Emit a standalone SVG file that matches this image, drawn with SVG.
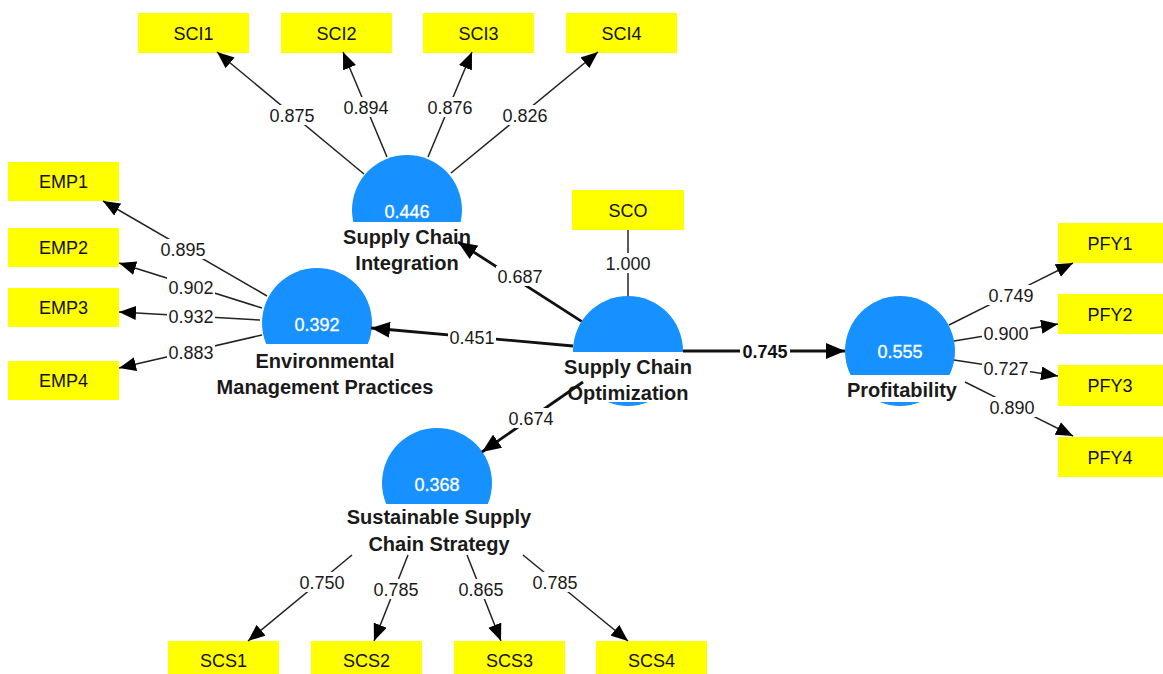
<svg xmlns="http://www.w3.org/2000/svg" width="1163" height="674" viewBox="0 0 1163 674">
<style>
.box{fill:#ffff00}
.bt{font-family:"Liberation Sans",Arial,sans-serif;font-size:18px;fill:#111;text-anchor:middle}
.lv{fill:#1691ff}
.val{font-family:"Liberation Sans",Arial,sans-serif;font-size:18px;fill:#fff;text-anchor:middle;stroke:#fff;stroke-width:0.3}
.lbl{font-family:"Liberation Sans",Arial,sans-serif;font-size:20px;font-weight:bold;fill:#1a1a1a;text-anchor:middle}
.lbg{fill:#fff}
.ind{stroke:#222;stroke-width:1.5;fill:none}
.str{stroke:#111;stroke-width:2.8;fill:none}
.num{font-family:"Liberation Sans",Arial,sans-serif;font-size:18px;fill:#1a1a1a;text-anchor:middle}
.numb{font-family:"Liberation Sans",Arial,sans-serif;font-size:18px;font-weight:bold;fill:#111;text-anchor:middle}
</style>
<defs>
<marker id="ah" markerUnits="userSpaceOnUse" markerWidth="17" markerHeight="14" refX="17" refY="7" orient="auto"><path d="M0,0 L17,7 L0,14 z" fill="#000"/></marker>
<marker id="ahL" markerUnits="userSpaceOnUse" markerWidth="19" markerHeight="16" refX="19" refY="8" orient="auto"><path d="M0,0 L19,8 L0,16 z" fill="#000"/></marker>
</defs>
<rect width="1163" height="674" fill="#fff"/>

<g id="SCI1"><rect class="box" x="138" y="13" width="111" height="40"/><text class="bt" x="193.5" y="39.5">SCI1</text></g>
<g id="SCI2"><rect class="box" x="281" y="13" width="111" height="40"/><text class="bt" x="336.5" y="39.5">SCI2</text></g>
<g id="SCI3"><rect class="box" x="423" y="13" width="111" height="40"/><text class="bt" x="478.5" y="39.5">SCI3</text></g>
<g id="SCI4"><rect class="box" x="566" y="13" width="111" height="40"/><text class="bt" x="621.5" y="39.5">SCI4</text></g>
<g id="SCO"><rect class="box" x="572" y="190" width="112" height="40"/><text class="bt" x="628" y="216.5">SCO</text></g>
<g id="EMP1"><rect class="box" x="8" y="162" width="111" height="39"/><text class="bt" x="63.5" y="188">EMP1</text></g>
<g id="EMP2"><rect class="box" x="8" y="228" width="111" height="39"/><text class="bt" x="63.5" y="254">EMP2</text></g>
<g id="EMP3"><rect class="box" x="8" y="288" width="111" height="39"/><text class="bt" x="63.5" y="314">EMP3</text></g>
<g id="EMP4"><rect class="box" x="8" y="361" width="111" height="39"/><text class="bt" x="63.5" y="387">EMP4</text></g>
<g id="PFY1"><rect class="box" x="1058" y="223" width="111" height="40"/><text class="bt" x="1110" y="249.5">PFY1</text></g>
<g id="PFY2"><rect class="box" x="1058" y="294" width="111" height="40"/><text class="bt" x="1110" y="320.5">PFY2</text></g>
<g id="PFY3"><rect class="box" x="1058" y="365" width="111" height="41"/><text class="bt" x="1110" y="392">PFY3</text></g>
<g id="PFY4"><rect class="box" x="1058" y="437" width="111" height="40"/><text class="bt" x="1110" y="463.5">PFY4</text></g>
<g id="SCS1"><rect class="box" x="168" y="641" width="111" height="40"/><text class="bt" x="223.5" y="667">SCS1</text></g>
<g id="SCS2"><rect class="box" x="311" y="641" width="111" height="40"/><text class="bt" x="366.5" y="667">SCS2</text></g>
<g id="SCS3"><rect class="box" x="454" y="641" width="111" height="40"/><text class="bt" x="509.5" y="667">SCS3</text></g>
<g id="SCS4"><rect class="box" x="596" y="641" width="111" height="40"/><text class="bt" x="651.5" y="667">SCS4</text></g>

<g id="SupplyChainIntegration">
<circle class="lv" cx="407" cy="210" r="55"/>
<rect class="lbg" x="336" y="222" width="142" height="52"/>
<text class="val" x="407" y="218">0.446</text>
<text class="lbl" x="407" y="244">Supply Chain</text>
<text class="lbl" x="407" y="270">Integration</text>
</g>
<g id="EnvironmentalManagementPractices">
<circle class="lv" cx="317" cy="323" r="55"/>
<rect class="lbg" x="205" y="344" width="240" height="56"/>
<text class="val" x="317" y="331">0.392</text>
<text class="lbl" x="325" y="368">Environmental</text>
<text class="lbl" x="325" y="394">Management Practices</text>
</g>
<g id="SupplyChainOptimization">
<circle class="lv" cx="628" cy="351" r="55"/>
<rect class="lbg" x="558" y="352" width="140" height="50"/>
<text class="lbl" x="628" y="374">Supply Chain</text>
<text class="lbl" x="628" y="400">Optimization</text>
</g>
<g id="Profitability">
<circle class="lv" cx="900" cy="351" r="55"/>
<rect class="lbg" x="836" y="375" width="128" height="27"/>
<text class="val" x="900" y="358">0.555</text>
<text class="lbl" x="902" y="397">Profitability</text>
</g>
<g id="SustainableSupplyChainStrategy">
<circle class="lv" cx="437" cy="483" r="55"/>
<rect class="lbg" x="335" y="504" width="206" height="52"/>
<text class="val" x="437" y="491">0.368</text>
<text class="lbl" x="439" y="524">Sustainable Supply</text>
<text class="lbl" x="439" y="551">Chain Strategy</text>
</g>

<g id="connectors">
<line class="ind" x1="364" y1="174" x2="217" y2="52" marker-end="url(#ah)"/>
<line class="ind" x1="387" y1="157" x2="343" y2="52" marker-end="url(#ah)"/>
<line class="ind" x1="428" y1="157" x2="472" y2="52" marker-end="url(#ah)"/>
<line class="ind" x1="451" y1="173" x2="598" y2="52" marker-end="url(#ah)"/>
<line class="ind" x1="267" y1="296" x2="103" y2="201" marker-end="url(#ah)"/>
<line class="ind" x1="262" y1="308" x2="119" y2="263" marker-end="url(#ah)"/>
<line class="ind" x1="260" y1="320" x2="119" y2="312" marker-end="url(#ah)"/>
<line class="ind" x1="262" y1="335" x2="119" y2="368" marker-end="url(#ah)"/>
<line class="ind" x1="949" y1="325" x2="1073" y2="263" marker-end="url(#ah)"/>
<line class="ind" x1="954" y1="341" x2="1058" y2="324" marker-end="url(#ah)"/>
<line class="ind" x1="954" y1="360" x2="1058" y2="376" marker-end="url(#ah)"/>
<line class="ind" x1="965" y1="382" x2="1073" y2="436" marker-end="url(#ah)"/>
<line class="ind" x1="352" y1="555" x2="248" y2="641" marker-end="url(#ah)"/>
<line class="ind" x1="408" y1="555" x2="374" y2="641" marker-end="url(#ah)"/>
<line class="ind" x1="467" y1="555" x2="501" y2="641" marker-end="url(#ah)"/>
<line class="ind" x1="523" y1="555" x2="628" y2="641" marker-end="url(#ah)"/>
<line class="ind" x1="628" y1="230" x2="628" y2="296"/>
<line class="str" x1="581.6" y1="321.4" x2="458" y2="242" marker-end="url(#ahL)"/>
<line class="str" x1="573" y1="346" x2="371" y2="328" marker-end="url(#ahL)"/>
<line class="str" x1="583" y1="382" x2="482" y2="452" stroke-width="2.4" marker-end="url(#ahL)"/>
<line class="str" x1="683" y1="351" x2="845" y2="351" marker-end="url(#ahL)"/>

<g class="lbg">
<rect x="268" y="105" width="48" height="20"/>
<rect x="342" y="97" width="48" height="20"/>
<rect x="426" y="97" width="48" height="20"/>
<rect x="501" y="105" width="48" height="20"/>
<rect x="159" y="239" width="48" height="20"/>
<rect x="167" y="277" width="48" height="20"/>
<rect x="167" y="306" width="48" height="20"/>
<rect x="167" y="342" width="48" height="20"/>
<rect x="987" y="285" width="48" height="20"/>
<rect x="982" y="323" width="48" height="20"/>
<rect x="982" y="358" width="48" height="20"/>
<rect x="988" y="397" width="48" height="20"/>
<rect x="298" y="572" width="48" height="20"/>
<rect x="372" y="579" width="48" height="20"/>
<rect x="457" y="579" width="48" height="20"/>
<rect x="531" y="572" width="48" height="20"/>
<rect x="604" y="253" width="48" height="20"/>
<rect x="496" y="266" width="48" height="20"/>
<rect x="448" y="327" width="48" height="20"/>
<rect x="507" y="408" width="48" height="20"/>
<rect x="740" y="341" width="50" height="20"/>
</g>
<text class="num" x="292" y="121.5">0.875</text>
<text class="num" x="366" y="113.5">0.894</text>
<text class="num" x="450" y="113.5">0.876</text>
<text class="num" x="525" y="121.5">0.826</text>
<text class="num" x="183" y="255.5">0.895</text>
<text class="num" x="191" y="293.5">0.902</text>
<text class="num" x="191" y="322.5">0.932</text>
<text class="num" x="191" y="358.5">0.883</text>
<text class="num" x="1011" y="301.5">0.749</text>
<text class="num" x="1006" y="339.5">0.900</text>
<text class="num" x="1006" y="374.5">0.727</text>
<text class="num" x="1012" y="413.5">0.890</text>
<text class="num" x="322" y="588.5">0.750</text>
<text class="num" x="396" y="595.5">0.785</text>
<text class="num" x="481" y="595.5">0.865</text>
<text class="num" x="555" y="588.5">0.785</text>
<text class="num" x="628" y="269.5">1.000</text>
<text class="num" x="520" y="282.5">0.687</text>
<text class="num" x="472" y="343.5">0.451</text>
<text class="num" x="531" y="424.5">0.674</text>
<text class="numb" x="765" y="357.5">0.745</text>
</g>
</svg>
